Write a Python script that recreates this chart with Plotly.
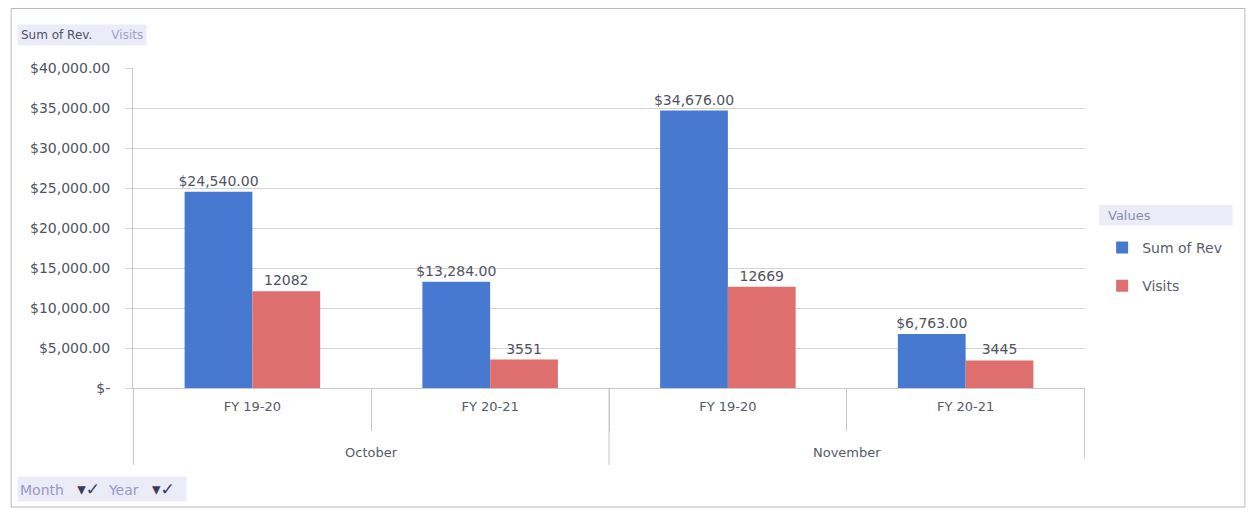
import plotly.graph_objects as go

# Pivot data: Month x Fiscal Year
months = ["October", "October", "November", "November"]
years = ["FY 19-20", "FY 20-21", "FY 19-20", "FY 20-21"]
sum_of_rev = [24540, 13284, 34676, 6763]
visits = [12082, 3551, 12669, 3445]

y_ticks = [0, 5000, 10000, 15000, 20000, 25000, 30000, 35000, 40000]
y_tick_labels = ["$-", "$5,000.00", "$10,000.00", "$15,000.00", "$20,000.00",
                 "$25,000.00", "$30,000.00", "$35,000.00", "$40,000.00"]

BLUE = "#4679CF"
RED = "#DF6F6E"
TXT = "#50535F"
GRID = "#D4D4D4"
LINE = "#C8C8C8"
BAND = "#ECEBF8"
FONT = "DejaVu Sans"

# one unique category per (month, year) pair; years are shown as tick text
cat_keys = [f"{m}|{y}" for m, y in zip(months, years)]

fig = go.Figure()
fig.add_trace(go.Bar(
    x=cat_keys, y=sum_of_rev, name="Sum of Rev",
    marker=dict(color=BLUE, line=dict(width=0)),
    texttemplate="$%{y:,.2f}", textposition="outside", constraintext="none",
    textfont=dict(family=FONT, size=14, color=TXT),
    cliponaxis=False, legendgroup="a",
))
fig.add_trace(go.Bar(
    x=cat_keys, y=visits, name="Visits",
    marker=dict(color=RED, line=dict(width=0)),
    texttemplate="%{y:d}", textposition="outside", constraintext="none",
    textfont=dict(family=FONT, size=14, color=TXT),
    cliponaxis=False, legendgroup="b",
))

fig.update_layout(
    width=1253, height=512,
    margin=dict(l=133, r=168, t=68, b=124),
    paper_bgcolor="white", plot_bgcolor="white",
    barmode="group", bargap=0.43, bargroupgap=0,
    font=dict(family=FONT, size=14, color=TXT),
    showlegend=True,
    legend=dict(
        x=1.018, xanchor="left", y=0.488, yanchor="top",
        font=dict(size=14, color="#5A5D6C"),
        bgcolor="rgba(0,0,0,0)", tracegroupgap=17,
        traceorder="grouped",
    ),
    xaxis=dict(
        type="category", tickvals=cat_keys, ticktext=years,
        showline=True, linecolor=LINE, linewidth=1,
        ticks="outside", tickson="boundaries", ticklen=42, tickcolor=LINE,
        ticklabelstandoff=6,
        tickfont=dict(family=FONT, size=13, color="#555A66"),
        showgrid=False,
    ),
    yaxis=dict(
        range=[0, 40000], tickvals=y_ticks, ticktext=y_tick_labels,
        showgrid=True, gridcolor=GRID, gridwidth=1,
        showline=True, linecolor=LINE, linewidth=1,
        ticks="outside", ticklen=7, tickcolor=GRID,
        ticklabelstandoff=12,
        tickfont=dict(family=FONT, size=14, color=TXT),
        zeroline=False,
    ),
)

# Outer month level: group dividers and centred month labels
month_order = list(dict.fromkeys(months))
start = 0
for m in month_order:
    n = months.count(m)
    fig.add_shape(type="line", xref="x", yref="paper",
                  x0=start - 0.5, x1=start - 0.5, y0=0, y1=-0.24,
                  line=dict(color=LINE, width=1))
    fig.add_annotation(xref="x", yref="paper", x=start + (n - 1) / 2, y=-0.2,
                       text=m, showarrow=False, yanchor="middle",
                       font=dict(family=FONT, size=13, color="#555A66"))
    start += n
fig.add_shape(type="line", xref="x", yref="paper",
              x0=start - 0.5, x1=start - 0.5, y0=0, y1=-0.22,
              line=dict(color=LINE, width=1))

# Chart frame
fig.add_shape(type="rect", xref="paper", yref="paper",
              x0=-0.128, x1=1.168, y0=-0.372, y1=1.186,
              line=dict(color="#B8B8B8", width=1), fillcolor="rgba(0,0,0,0)")

# Legend header ("Values" field band)
fig.add_shape(type="rect", xref="paper", yref="paper",
              x0=1.015, x1=1.155, y0=0.508, y1=0.572,
              line=dict(width=0), fillcolor=BAND, layer="below")
fig.add_annotation(xref="paper", yref="paper", x=1.022, y=0.54,
                   xanchor="left", yanchor="middle", showarrow=False,
                   text="Values", font=dict(size=13, color="#8A8FA8"))

# Pivot field buttons
CHK = "<span style='color:#3A3D5A;font-size:17px'>▾<b>✓</b></span>"
fig.add_annotation(xref="paper", yref="paper", x=-0.122, y=1.103,
                   xanchor="left", yanchor="middle", showarrow=False,
                   text="Sum of Rev.     <span style='color:#A29FCC'>Visits</span>",
                   font=dict(size=12, color="#4E5166"),
                   bgcolor=BAND, borderpad=3)
fig.add_annotation(xref="paper", yref="paper", x=-0.122, y=-0.316,
                   xanchor="left", yanchor="middle", showarrow=False,
                   text=f"Month   {CHK}  Year   {CHK}  ",
                   font=dict(size=14, color="#9A98C4"),
                   bgcolor=BAND, borderpad=2)

fig.write_html("out.html")
